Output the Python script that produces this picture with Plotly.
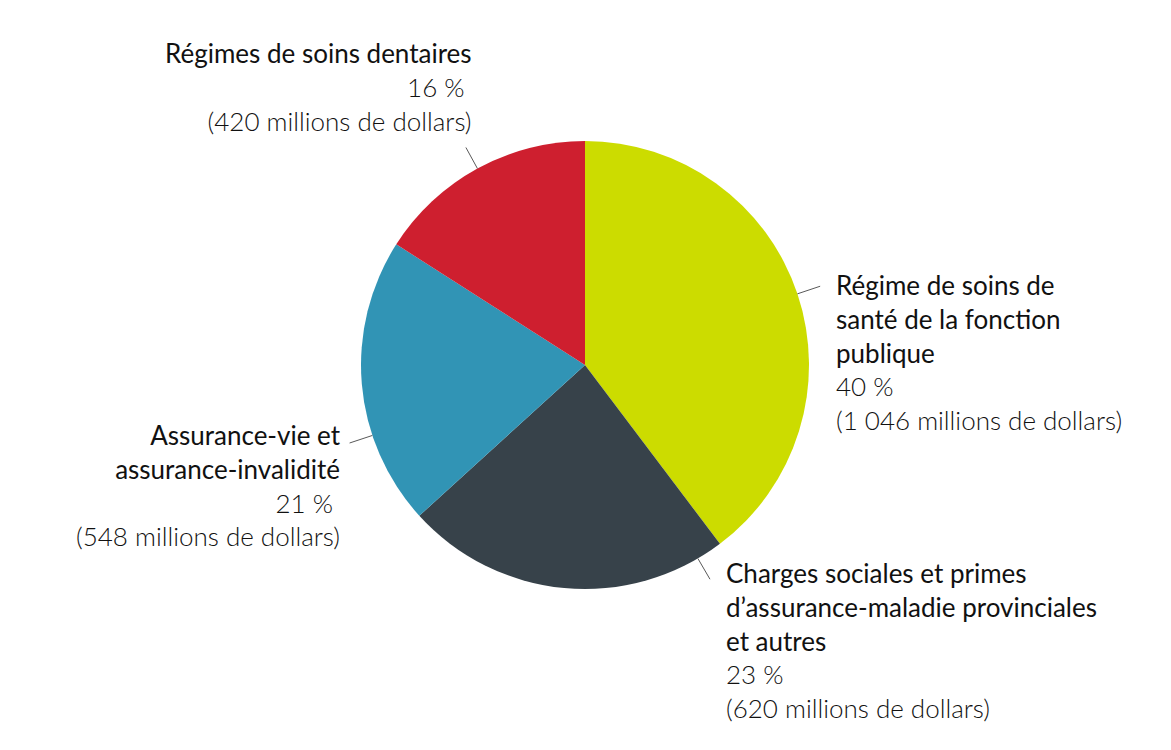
import math
import plotly.graph_objects as go

# slices, clockwise from 12 o'clock
categories = [
    "Régime de soins de<br>santé de la fonction<br>publique",
    "Charges sociales et primes<br>d’assurance-maladie provinciales<br>et autres",
    "Assurance-vie et<br>assurance-invalidité",
    "Régimes de soins dentaires",
]
amounts = [1046, 620, 548, 420]          # millions de dollars
percents = [40, 23, 21, 16]
colors = ["#CCDC00", "#37424A", "#3194B5", "#CE1F2F"]

W, H = 1171, 750
OFF = 8                                  # page body margin
cx, cy, r = 585, 365, 224               # pie centre / radius (page pixels)

# label placement (page pixels): x, y top, side
label_pos = [(834, 267, "left"), (724, 555, "left"), (343, 417, "right"), (474, 35, "right")]
leader_frac = [0.5, 0.08, 0.32, 0.5]    # where the leader leaves each slice


def px(x):
    return (x - OFF) / W


def py(y):
    return 1 - (y - OFF) / H


fig = go.Figure()
fig.add_trace(go.Pie(
    values=amounts,
    marker=dict(colors=colors, line=dict(width=0)),
    sort=False, direction="clockwise", rotation=0,
    textinfo="none", hoverinfo="skip", showlegend=False,
    domain=dict(x=[px(cx - r), px(cx + r)], y=[py(cy + r), py(cy - r)]),
))

total = sum(amounts)
start = 0
shapes, annotations = [], []
for cat, amt, pct, (lx, ly, side), f in zip(categories, amounts, percents, label_pos, leader_frac):
    ang = math.radians((start + amt * f) / total * 360)
    start += amt
    x0, y0 = cx + r * math.sin(ang), cy - r * math.cos(ang)
    x1, y1 = cx + (r + 24) * math.sin(ang), cy - (r + 24) * math.cos(ang)
    shapes.append(dict(type="line", xref="paper", yref="paper",
                       x0=px(x0), y0=py(y0), x1=px(x1), y1=py(y1),
                       line=dict(color="#595959", width=1)))
    amt_txt = f"{amt:,}".replace(",", " ")
    txt = (f"{cat}<br><span style='font-weight:300'>{pct} %&nbsp;"
           f"<br>({amt_txt} millions de dollars)</span>")
    annotations.append(dict(text=txt, xref="paper", yref="paper",
                            x=px(lx), y=py(ly), xanchor=side, yanchor="top",
                            align=side, showarrow=False,
                            font=dict(family="Lato", size=26, color="#111111")))

fig.update_layout(
    width=W, height=H,
    margin=dict(l=0, r=0, t=0, b=0),
    paper_bgcolor="white", plot_bgcolor="white",
    shapes=shapes, annotations=annotations,
)
fig.write_html("out.html")
